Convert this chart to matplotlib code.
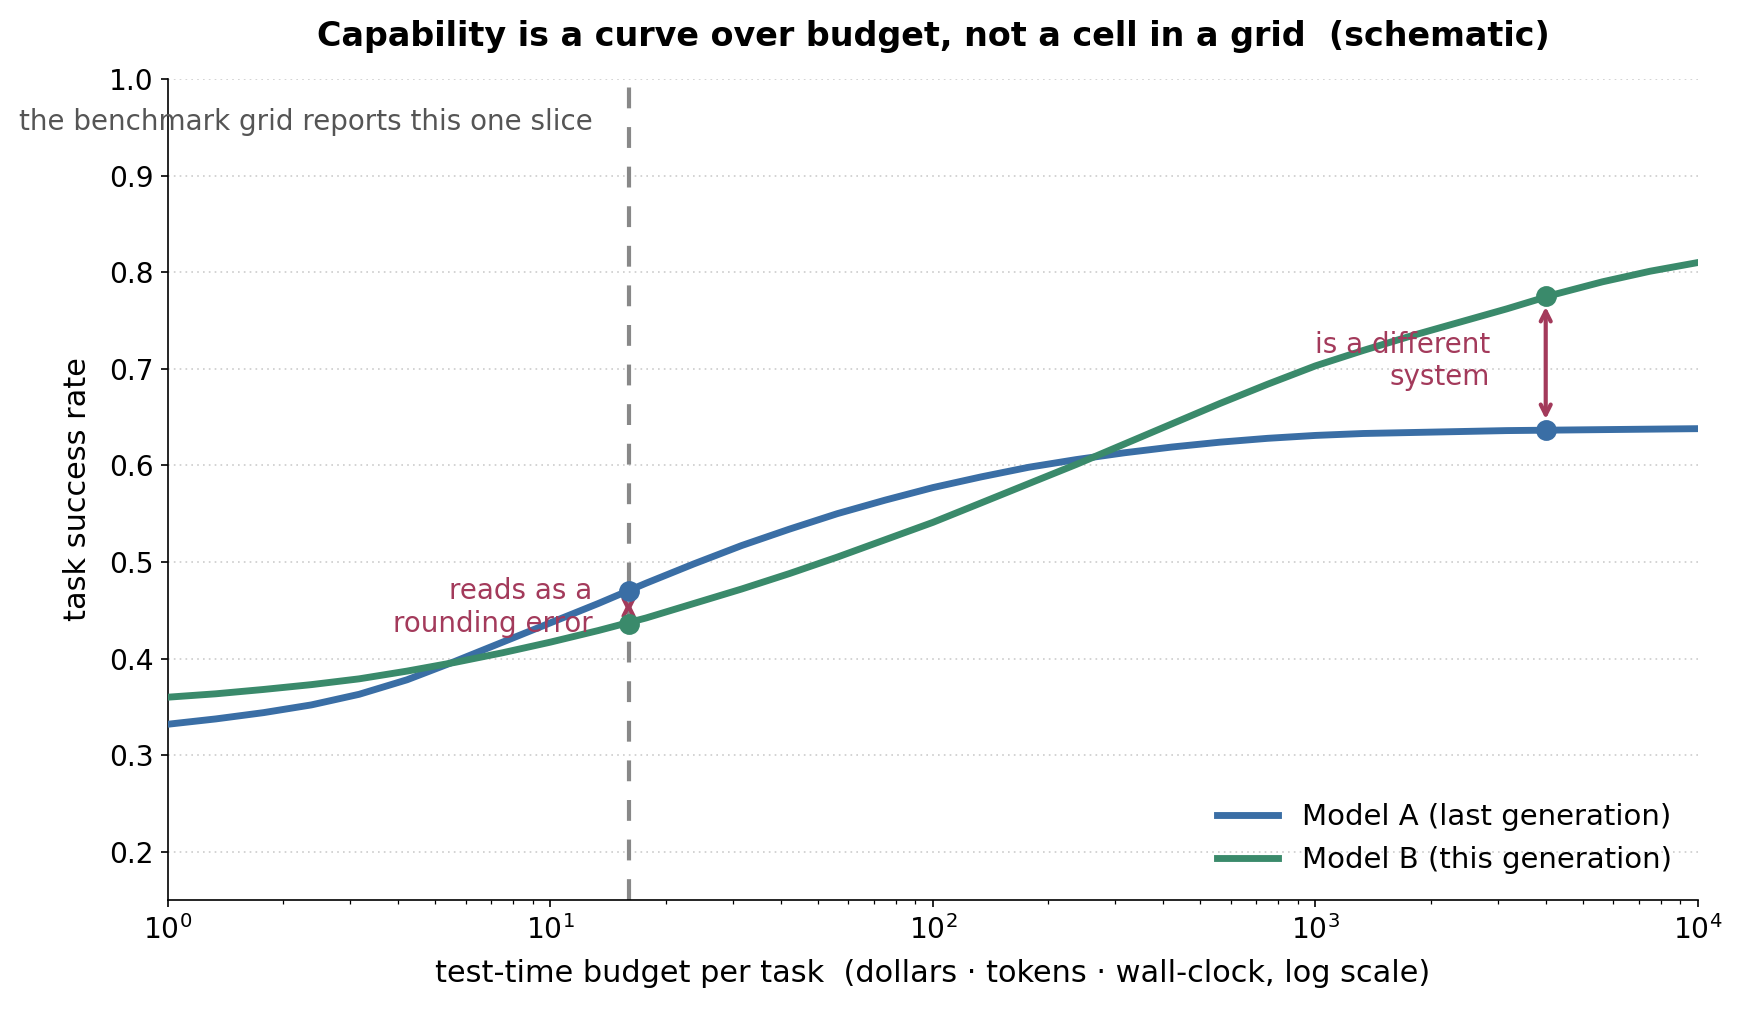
import matplotlib
matplotlib.use("Agg")
import matplotlib.pyplot as plt

# ---- data ----
budget = [1.0, 1.334, 1.778, 2.371, 3.162, 4.217, 5.623, 7.499,
          10.0, 13.34, 17.78, 23.71, 31.62, 42.17, 56.23, 74.99,
          100.0, 133.4, 177.8, 237.1, 316.2, 421.7, 562.3, 749.9,
          1000.0, 1334.0, 1778.0, 2371.0, 3162.0, 4217.0, 5623.0, 7499.0,
          10000.0]
model_a = [0.332, 0.3375, 0.344, 0.352, 0.363, 0.378, 0.397, 0.417,
           0.437, 0.457, 0.478, 0.498, 0.517, 0.534, 0.550, 0.564,
           0.577, 0.588, 0.598, 0.606, 0.613, 0.619, 0.624, 0.628,
           0.631, 0.633, 0.634, 0.635, 0.636, 0.6365, 0.637, 0.6375,
           0.638]
model_b = [0.360, 0.3635, 0.368, 0.373, 0.379, 0.387, 0.396, 0.406,
           0.417, 0.429, 0.442, 0.457, 0.472, 0.488, 0.505, 0.523,
           0.541, 0.561, 0.581, 0.601, 0.622, 0.643, 0.664, 0.684,
           0.703, 0.719, 0.734, 0.748, 0.762, 0.777, 0.790, 0.801,
           0.810]
series_labels = ["Model A (last generation)", "Model B (this generation)"]

slice_budget = 16
slice_a, slice_b = 0.470, 0.436
far_budget = 4000
far_a, far_b = 0.637, 0.775

y_ticks = [0.2, 0.3, 0.4, 0.5, 0.6, 0.7, 0.8, 0.9, 1.0]

BLUE = "#3a6ea5"
GREEN = "#3a8a6b"
RED = "#a33a5b"

fig = plt.figure(figsize=(1742 / 150, 1009 / 150), dpi=150)
ax = fig.add_axes([0.0964, 0.108, 0.8783, 0.8137])

ax.plot(budget, model_a, color=BLUE, lw=3.3, label=series_labels[0], zorder=3)
ax.plot(budget, model_b, color=GREEN, lw=3.3, label=series_labels[1], zorder=3)

ax.axvline(slice_budget, color="#888888", lw=2, ls=(0, (5, 4.5)), zorder=2)

ax.plot([slice_budget, far_budget], [slice_a, far_a], "o", color=BLUE, ms=9, zorder=4)
ax.plot([slice_budget, far_budget], [slice_b, far_b], "o", color=GREEN, ms=9, zorder=4)

arrow_kw = dict(arrowstyle="<->", color=RED, lw=2, mutation_scale=12,
                shrinkA=5, shrinkB=5)
ax.annotate("", xy=(slice_budget, slice_b), xytext=(slice_budget, slice_a),
            arrowprops=arrow_kw, zorder=3)
ax.annotate("", xy=(far_budget, far_a), xytext=(far_budget, far_b),
            arrowprops=arrow_kw, zorder=3)

ax.text(12.9, 0.453, "reads as a\nrounding error", color=RED, fontsize=13.3,
        ha="right", va="center", zorder=5)
ax.text(2860, 0.708, "is a different\nsystem", color=RED, fontsize=13.3,
        ha="right", va="center", zorder=5)
ax.text(12.9, 0.956, "the benchmark grid reports this one slice", color="#555555",
        fontsize=13.3, ha="right", va="center", zorder=5)

ax.set_xscale("log")
ax.set_xlim(1, 1e4)
ax.set_ylim(0.15, 1.0)
ax.set_yticks(y_ticks)
ax.yaxis.grid(True, ls=(0, (1, 2.5)), color="#cccccc", lw=0.8)
ax.set_axisbelow(True)
for s in ["top", "right"]:
    ax.spines[s].set_visible(False)
ax.tick_params(labelsize=13.5)

ax.set_xlabel("test-time budget per task  (dollars · tokens · wall-clock, log scale)",
              fontsize=14.6, labelpad=7)
ax.set_ylabel("task success rate", fontsize=14.6, labelpad=8)
ax.set_title("Capability is a curve over budget, not a cell in a grid  (schematic)",
             fontsize=16, fontweight="bold", pad=16)

ax.legend(loc="lower right", frameon=False, fontsize=14, handlelength=2.1,
          bbox_to_anchor=(1.0, 0.0))

fig.savefig("out.png", dpi=150)
